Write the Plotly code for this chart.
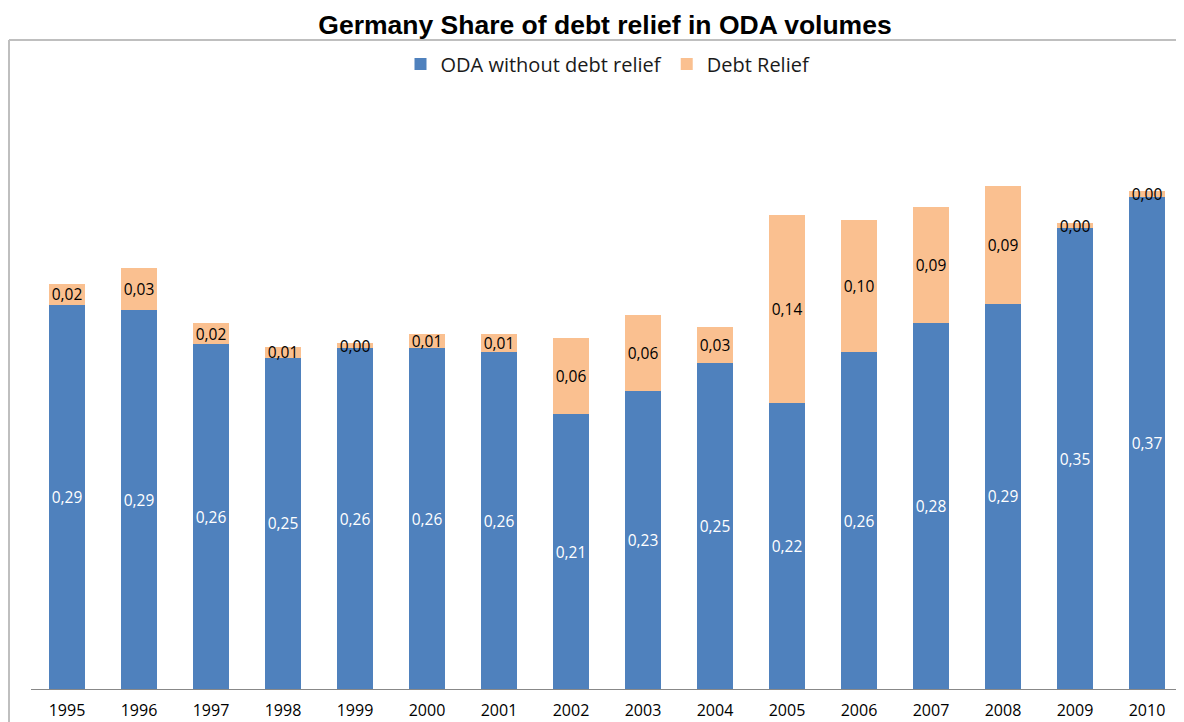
import plotly.graph_objects as go

years = ['1995', '1996', '1997', '1998', '1999', '2000', '2001', '2002',
         '2003', '2004', '2005', '2006', '2007', '2008', '2009', '2010']
oda_without_debt = [0.291, 0.287, 0.261, 0.251, 0.258, 0.258, 0.255, 0.208,
                    0.226, 0.247, 0.217, 0.255, 0.277, 0.292, 0.349, 0.373]
debt_relief = [0.016, 0.032, 0.016, 0.008, 0.004, 0.011, 0.014, 0.058,
               0.057, 0.027, 0.142, 0.100, 0.088, 0.089, 0.004, 0.004]

# page body has an 8px margin, so work in screen pixels and shift
OFF = 8
W, H = 1184 - OFF, 722 - OFF
L, R, T, B = 31 - OFF, 1, 90 - OFF, 33
pw, ph = W - L - R, H - T - B


def px_x(x):
    return (x - OFF - L) / pw


def px_y(y):
    return (H - B - (y - OFF)) / ph


fig = go.Figure()

fig.add_trace(go.Bar(
    x=years, y=oda_without_debt,
    name='ODA without debt relief',
    marker=dict(color='#4F81BD', line=dict(width=0)),
    texttemplate='%{y:.2f}',
    textposition='inside',
    insidetextanchor='middle',
    textangle=0,
    textfont=dict(color='white', size=15.5, family='Open Sans'),
))

fig.add_trace(go.Bar(
    x=years, y=debt_relief,
    name='Debt Relief',
    marker=dict(color='#FAC090', line=dict(width=0)),
    texttemplate='%{y:.2f}',
    textposition='inside',
    insidetextanchor='middle',
    textangle=0,
    constraintext='none',
    textfont=dict(color='black', size=15.5, family='Open Sans'),
))

# grey frame around the chart area (top and left edges visible)
fig.add_shape(type='line', xref='paper', yref='paper',
              x0=px_x(9), x1=px_x(1190), y0=px_y(40), y1=px_y(40),
              line=dict(color='#BFBFBF', width=2))
fig.add_shape(type='line', xref='paper', yref='paper',
              x0=px_x(9), x1=px_x(9), y0=px_y(40), y1=px_y(730),
              line=dict(color='#BFBFBF', width=2))

fig.update_layout(
    width=W, height=H,
    margin=dict(l=L, r=R, t=T, b=B),
    barmode='stack',
    bargap=0.5,
    separators=',.',
    uniformtext=dict(minsize=15.5, mode='show'),
    paper_bgcolor='white',
    plot_bgcolor='white',
    title=dict(
        text='<b>Germany Share of debt relief in ODA volumes</b>',
        x=px_x(605), xanchor='center', xref='paper',
        y=1 - (25 - OFF) / H, yanchor='middle',
        font=dict(family='Liberation Sans', size=26.5, color='black'),
    ),
    legend=dict(
        orientation='h',
        x=px_x(608), xanchor='center',
        y=px_y(64), yanchor='middle',
        font=dict(family='Open Sans', size=20, color='#1A1A1A'),
        itemwidth=30,
        traceorder='normal',
    ),
    xaxis=dict(
        showline=True, linecolor='#888888', linewidth=1,
        ticks='', showgrid=False,
        ticklabelstandoff=7,
        tickfont=dict(family='Open Sans', size=16, color='black'),
    ),
    yaxis=dict(
        range=[0, ph / 1320],
        visible=False, showgrid=False,
    ),
    showlegend=True,
)

fig.write_html('out.html')
